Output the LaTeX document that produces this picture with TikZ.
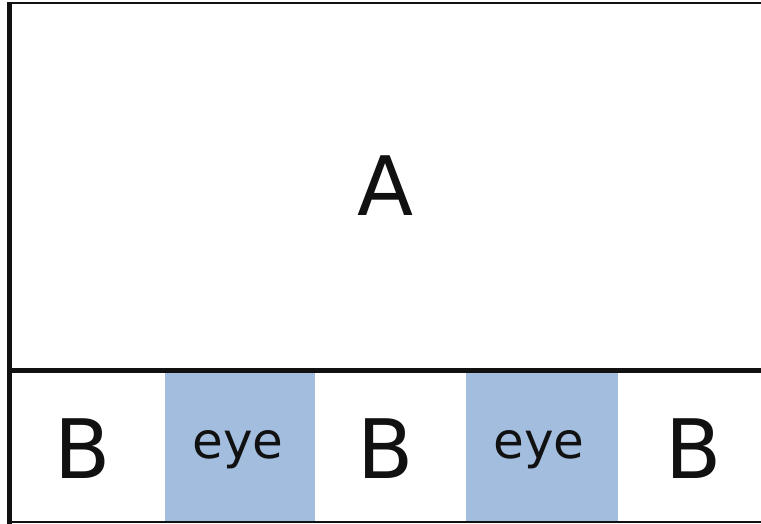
\documentclass[tikz,border=0pt]{standalone}
\usepackage{fontspec}
\setmainfont{DejaVu Sans}
\definecolor{eyeblue}{HTML}{A3BDDF}
\definecolor{ink}{HTML}{111111}
\begin{document}
\begin{tikzpicture}[x=1pt,y=-1pt,
  bigtxt/.style={text=ink, inner sep=0pt, anchor=base, font=\fontsize{82}{90}\selectfont},
  eyetxt/.style={text=ink, inner sep=0pt, anchor=base, font=\fontsize{50}{56}\selectfont},
  eyecell/.style={fill=eyeblue, draw=none, inner sep=0pt, anchor=north west},
  thick frame/.style={draw=ink, line width=5pt},
  thin frame/.style={draw=ink, line width=2pt}]
\useasboundingbox (0,0) rectangle (761,524);
% blue cells
\node[eyecell, minimum width=150pt, minimum height=150pt] (eye1) at (165,372) {};
\node[eyecell, minimum width=152pt, minimum height=150pt] (eye2) at (466,372) {};
% frame
\coordinate (tl) at (9,3);
\coordinate (tr) at (761,3);
\coordinate (bl) at (9,522);
\coordinate (br) at (761,522);
\coordinate (ml) at (9,370);
\coordinate (mr) at (761,370);
\draw[thin frame] (tl) -- (tr);
\draw[thin frame] (bl) -- (br);
\draw[thick frame] ([yshift=1pt]tl) -- ([yshift=-2pt]bl);
\draw[thick frame] (ml) -- (mr);
% texts
\node[bigtxt] (A) at (386,215) {A};
\node[bigtxt] (B1) at (83,478) {B};
\node[bigtxt] (B2) at (386,478) {B};
\node[bigtxt] (B3) at (694,478) {B};
\node[eyetxt] (e1) at (238,458) {eye};
\node[eyetxt] (e2) at (539,458) {eye};
\end{tikzpicture}
\end{document}
